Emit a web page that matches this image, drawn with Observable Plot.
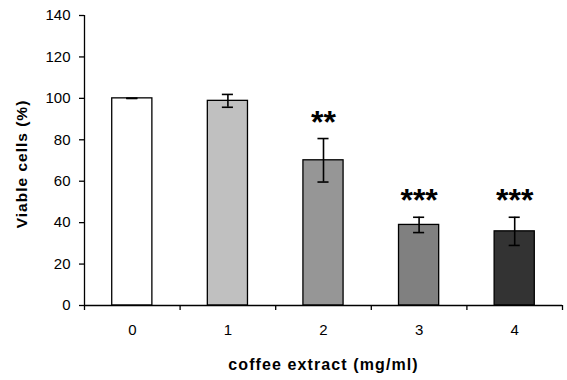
<!DOCTYPE html>
<html><head><meta charset="utf-8">
<script src="https://cdn.jsdelivr.net/npm/d3@7"></script>
<script src="https://cdn.jsdelivr.net/npm/@observablehq/plot@0.6"></script>
<style>body{margin:0;background:#fff}</style>
</head><body><div id="chart"></div>
<script>
const doses = [0, 1, 2, 3, 4];
const viable = [100, 98.8, 70.1, 38.9, 35.8];
const errors = [0, 3.1, 10.5, 3.7, 6.8];
const fills = ["#ffffff", "#c0c0c0", "#969696", "#808080", "#333333"];
const stars = ["", "", "**", "***", "***"];
const yTicks = [0, 20, 40, 60, 80, 100, 120, 140];
const xLabel = "coffee extract (mg/ml)";
const yLabel = "Viable cells (%)";

const data = doses.map((d, i) => ({dose: d, v: viable[i], e: errors[i], fill: fills[i], star: stars[i]}));
const halfBar = 0.21, halfCap = 0.058;
const boundaries = d3.range(doses.length + 1).map(i => i - 0.5);
const caps = data.flatMap(d => [
  {dose: d.dose, y: d.v + d.e},
  {dose: d.dose, y: d.v - d.e}
]);

const plot = Plot.plot({
  width: 567, height: 380,
  marginLeft: 84, marginRight: 5, marginTop: 15, marginBottom: 75,
  style: {fontFamily: "'Liberation Sans', Arial, sans-serif", fontSize: "15px", color: "#000", background: "#fff"},
  x: {domain: [-0.5, 4.5]},
  y: {domain: [0, 140]},
  color: {type: "identity"},
  marks: [
    Plot.rectY(data, {x1: d => d.dose - halfBar, x2: d => d.dose + halfBar, y1: 0, y2: "v", fill: "fill", stroke: "#000", strokeWidth: 1.3}),
    Plot.ruleX(data, {x: "dose", y1: d => d.v - d.e, y2: d => d.v + d.e, stroke: "#000", strokeWidth: 1.6}),
    Plot.ruleY(caps, {y: "y", x1: d => d.dose - halfCap, x2: d => d.dose + halfCap, stroke: "#000", strokeWidth: 1.6}),
    Plot.text(data, {x: "dose", y: d => d.v + d.e, text: "star", lineAnchor: "bottom", dy: -6, fontSize: 32, fontWeight: "bold", fill: "#000"}),
    Plot.ruleY([0], {stroke: "#000", strokeWidth: 1.3}),
    Plot.ruleX([-0.5], {y1: 0, y2: 140, stroke: "#000", strokeWidth: 1.3}),
    Plot.axisY({ticks: yTicks, tickSize: 5, tickPadding: 9, label: null, strokeWidth: 1.3, fontSize: 15}),
    Plot.axisX({ticks: doses, tickSize: 0, tickPadding: 19, label: null, tickFormat: d3.format("d"), fontSize: 15}),
    Plot.axisX({ticks: boundaries, tickSize: 5, tickFormat: () => "", label: null, strokeWidth: 1.3}),
    Plot.text([yLabel], {frameAnchor: "left", textAnchor: "middle", dx: -62.3, dy: 3.5, rotate: -90, lineAnchor: "middle", fontSize: 15.5, fontWeight: "bold", fill: "#000"}),
    Plot.text([xLabel], {frameAnchor: "bottom", textAnchor: "middle", dy: 59, lineAnchor: "middle", fontSize: 16, fontWeight: "bold", fill: "#000"})
  ]
});
const svg = d3.select(plot);
svg.selectAll("text").filter(function() { return this.textContent === yLabel; })
  .attr("text-anchor", "middle").style("letter-spacing", "1px");
svg.selectAll("text").filter(function() { return this.textContent === xLabel; })
  .attr("text-anchor", "middle").style("letter-spacing", "1.1px");
document.getElementById("chart").appendChild(plot);
</script>
</body></html>
